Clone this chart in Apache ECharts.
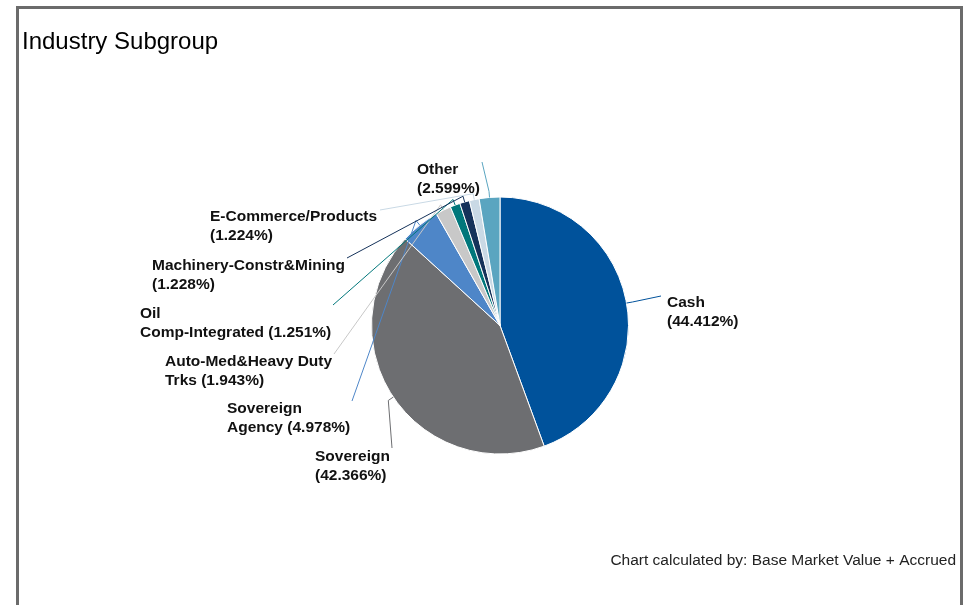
<!DOCTYPE html>
<html>
<head>
<meta charset="utf-8">
<title>Industry Subgroup</title>
<script src="https://cdn.jsdelivr.net/npm/echarts@6/dist/echarts.min.js"></script>
<style>
  html, body { margin: 0; padding: 0; background: #fff; }
  #frame {
    position: absolute; left: 16px; top: 6px; width: 941px; height: 640px;
    border: 3px solid #6b6b6b; box-sizing: content-box;
  }
  #chart { position: absolute; left: 0; top: 0; width: 969px; height: 605px; }
</style>
</head>
<body>
<div id="frame"></div>
<div id="chart"></div>
<script>
// Industry subgroup weights (%), clockwise from 12 o'clock
const categories = [
  'Cash',
  'Sovereign',
  'Sovereign\nAgency',
  'Auto-Med&Heavy Duty\nTrks',
  'Oil\nComp-Integrated',
  'Machinery-Constr&Mining\n',
  'E-Commerce/Products\n',
  'Other\n'
];
const weights = [44.412, 42.366, 4.978, 1.943, 1.251, 1.228, 1.224, 2.599];
const sliceColors = ['#00529b', '#6d6e71', '#4e86c8', '#c8c8c8', '#00777b', '#15325a', '#c9d9e5', '#5aa5c0'];

// Label block top-left corners and the point where each leader line ends
const labelSpots = [
  { x: 667, y: 293, end: [661, 296] },
  { x: 315, y: 447, end: [392, 448] },
  { x: 227, y: 399, end: [352, 401] },
  { x: 165, y: 352, end: [334, 354] },
  { x: 140, y: 304, end: [333, 305] },
  { x: 152, y: 256, end: [347, 258] },
  { x: 210, y: 207, end: [380, 210] },
  { x: 417, y: 160, end: [482, 162] }
];

function labelText(name, value) {
  // names already carry their line break; the value goes after it
  const sep = name.endsWith('\n') ? '' : (name.indexOf('\n') >= 0 ? ' ' : '\n');
  return name + sep + '(' + value.toFixed(3) + '%)';
}

const pieCenter = [500, 325.5];
const pieRadius = 128.5;

const chart = echarts.init(document.getElementById('chart'));
chart.setOption({
  animation: false,
  title: [
    {
      text: 'Industry Subgroup',
      left: 17, top: 25,
      textStyle: { fontFamily: 'Liberation Sans, Arial', fontSize: 24, fontWeight: 'normal', color: '#000' }
    },
    {
      text: 'Chart calculated by: Base Market Value + Accrued',
      right: 8, top: 548,
      textStyle: { fontFamily: 'Liberation Sans, Arial', fontSize: 15.5, fontWeight: 'normal', color: '#222' }
    }
  ],
  series: [
    {
      // the slices
      type: 'pie',
      z: 2,
      center: pieCenter,
      radius: pieRadius,
      startAngle: 90,
      clockwise: true,
      silent: true,
      itemStyle: { borderColor: '#fff', borderWidth: 1 },
      label: { show: false },
      labelLine: { show: false },
      data: categories.map((name, i) => ({
        name: name,
        value: weights[i],
        itemStyle: { color: sliceColors[i] }
      }))
    },
    {
      // labels and leader lines, drawn above every slice
      type: 'pie',
      z: 3,
      center: pieCenter,
      radius: pieRadius,
      startAngle: 90,
      clockwise: true,
      silent: true,
      avoidLabelOverlap: false,
      itemStyle: { color: 'rgba(0,0,0,0)', borderWidth: 0 },
      label: {
        show: true,
        position: 'outside',
        formatter: p => labelText(p.name, p.value),
        fontFamily: 'Liberation Sans, Arial',
        fontSize: 15.5,
        fontWeight: 'bold',
        color: '#111',
        lineHeight: 19
      },
      labelLine: { show: true, length: 6, length2: 10, smooth: false, lineStyle: { width: 1 } },
      labelLayout: function (params) {
        const spot = labelSpots[params.dataIndex];
        const pts = params.labelLinePoints;
        return {
          x: spot.x,
          y: spot.y,
          align: 'left',
          verticalAlign: 'top',
          labelLinePoints: [pts[0], pts[1], spot.end]
        };
      },
      data: categories.map((name, i) => ({
        name: name,
        value: weights[i],
        labelLine: { lineStyle: { color: sliceColors[i] } }
      }))
    }
  ]
});
</script>
</body>
</html>
